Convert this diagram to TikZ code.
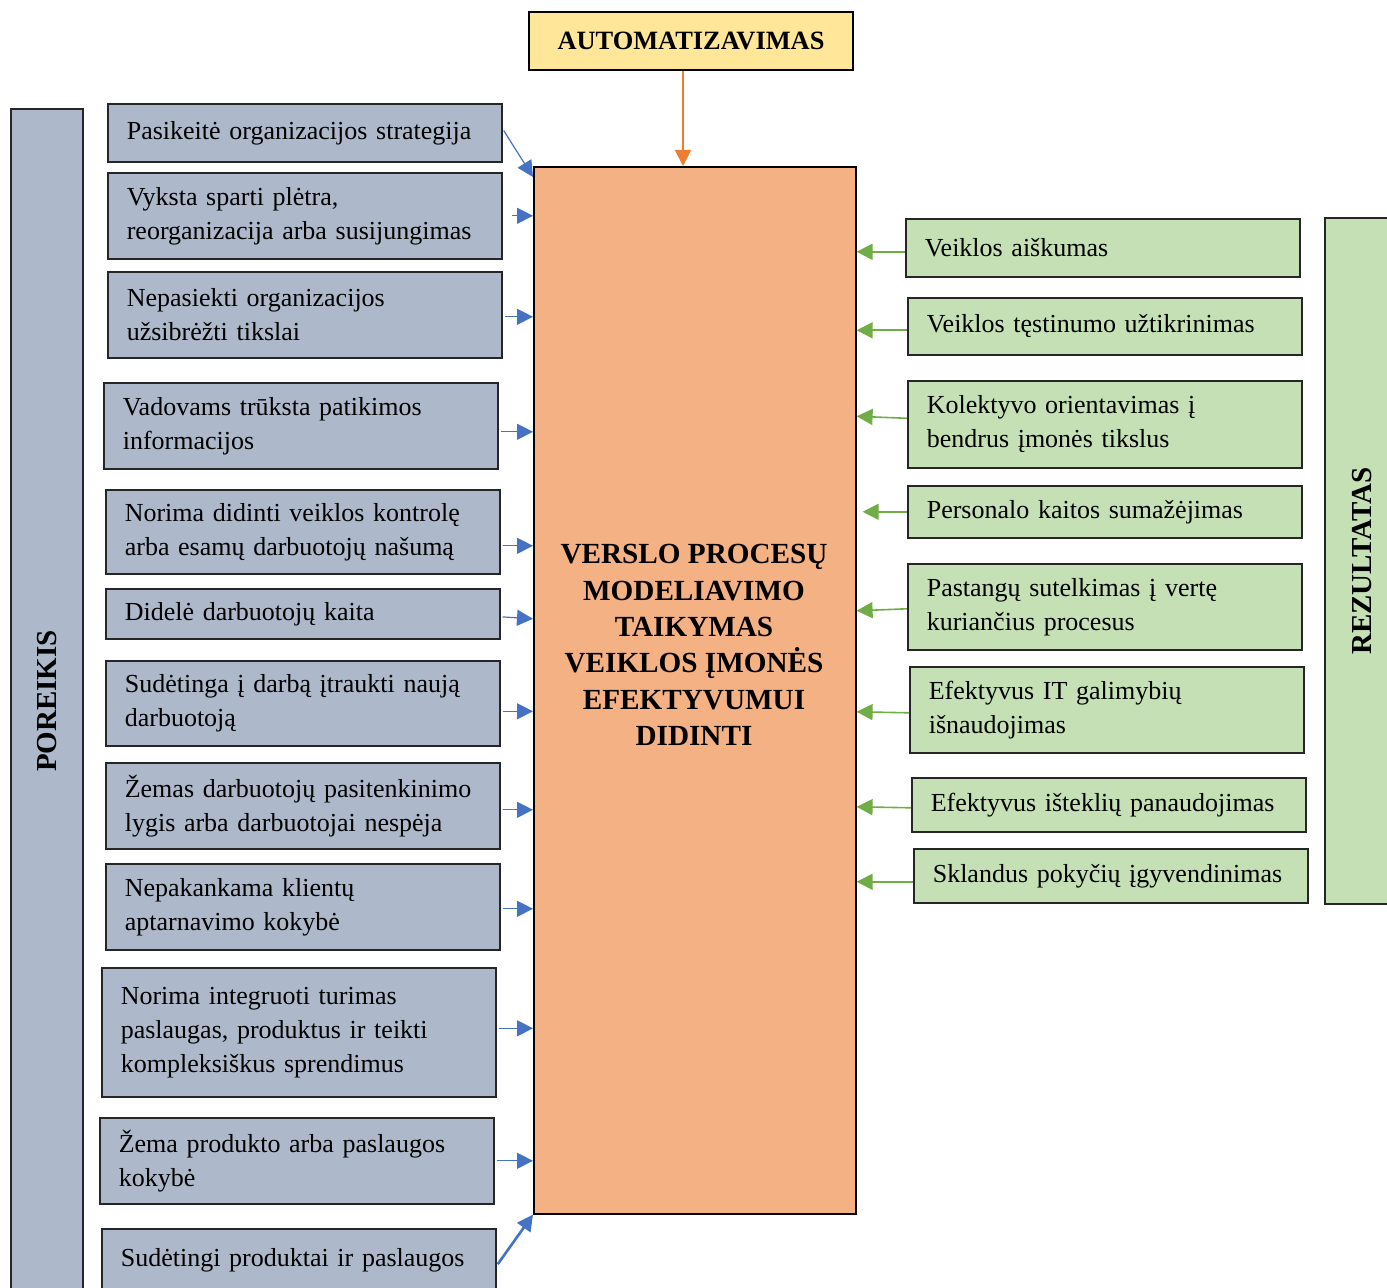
\documentclass[tikz,border=0pt]{standalone}
\usepackage{fontspec}
\setmainfont{Liberation Serif}
\usetikzlibrary{arrows.meta}

\definecolor{needfill}{HTML}{ADB9CA}
\definecolor{resfill}{HTML}{C5E0B4}
\definecolor{corefill}{HTML}{F4B183}
\definecolor{autofill}{HTML}{FFE699}
\definecolor{needline}{HTML}{4472C4}
\definecolor{resline}{HTML}{70AD47}
\definecolor{autoline}{HTML}{ED7D31}

\begin{document}
\begin{tikzpicture}[x=0.5pt, y=-0.5pt, font=\fontsize{13pt}{17pt}\selectfont]
    \tikzset{%
      box/.style={draw=black!85, line width=0.8pt, anchor=north west, text width=178pt,
        inner xsep=9.5pt, inner ysep=0pt, align=left, minimum height=#1,
        execute at begin node={\hyphenpenalty=10000\exhyphenpenalty=10000}},
      need/.style={box=#1, fill=needfill},
      res/.style={box=#1, fill=resfill},
      bar/.style={draw=black!85, line width=0.8pt, rotate=90, inner sep=0pt,
        font=\fontsize{14.5pt}{17pt}\selectfont\bfseries},
      needarr/.style={draw=needline, line width=0.6pt, shorten <=1pt,
        -{Triangle[length=8pt, width=8pt]}},
      resarr/.style={draw=resline, line width=0.8pt,
        -{Triangle[length=8pt, width=8pt]}}
      }
    \useasboundingbox (0,0) rectangle (1387,1288);

    % side bars
    \node [bar, fill=needfill, minimum width=592pt, minimum height=36pt] (poreikis) at (47,701) {POREIKIS};
    \node [bar, fill=resfill, minimum width=343pt, minimum height=37pt] (rezultatas) at (1362,561) {REZULTATAS};

    % centre
    \node [draw=black, line width=0.8pt, fill=autofill, minimum width=162pt, minimum height=29pt,
      font=\fontsize{13.2pt}{17pt}\selectfont\bfseries] (auto) at (691,41) {AUTOMATIZAVIMAS};
    \node [draw=black, line width=0.8pt, fill=corefill, anchor=north west,
      minimum width=161pt, minimum height=523.5pt] (main) at (533,166) {};
    \node [align=center, font=\fontsize{14.6pt}{18.2pt}\selectfont\bfseries] (maintitle) at (694,645)
      {VERSLO PROCESŲ\\MODELIAVIMO\\TAIKYMAS\\VEIKLOS ĮMONĖS\\EFEKTYVUMUI\\DIDINTI};
    \draw [draw=autoline, line width=1pt, -{Triangle[length=8pt, width=8pt]}]
      ([xshift=-4pt]auto.south) -- ([xshift=-4pt]auto.south |- main.north);

    % needs
    \node [need=29pt] (n1) at (107,103) {Pasikeitė organizacijos strategija};
    \node [need=43pt] (n2) at (107,172) {Vyksta sparti plėtra,\\reorganizacija arba susijungimas};
    \node [need=43pt] (n3) at (107,271) {Nepasiekti organizacijos\\užsibrėžti tikslai};
    \node [need=43pt] (n4) at (103,382) {Vadovams trūksta patikimos\\informacijos};
    \node [need=42pt] (n5) at (105,489) {Norima didinti veiklos kontrolę\\arba esamų darbuotojų našumą};
    \node [need=25pt] (n6) at (105,588) {Didelė darbuotojų kaita};
    \node [need=42.5pt] (n7) at (105,660) {Sudėtinga į darbą įtraukti naują\\darbuotoją};
    \node [need=43pt] (n8) at (105,762) {Žemas darbuotojų pasitenkinimo\\lygis arba darbuotojai nespėja};
    \node [need=43pt] (n9) at (105,863) {Nepakankama klientų\\aptarnavimo kokybė};
    \node [need=64.5pt] (n10) at (101,967) {Norima integruoti turimas\\paslaugas, produktus ir teikti\\kompleksiškus sprendimus};
    \node [need=43pt] (n11) at (99,1117) {Žema produkto arba paslaugos\\kokybė};
    \node [need=31pt] (n12) at (101,1228) {Sudėtingi produktai ir paslaugos};

    \draw [needarr] ([yshift=2pt]n1.east) -- ([yshift=-5.5pt]main.north west);
    \draw [needarr, shorten <=4.5pt] (n2.east) -- (n2.east -| main.west);
    \draw [needarr] ([yshift=-1pt]n3.east) -- ([yshift=-1pt]n3.east -| main.west);
    \draw [needarr] ([yshift=-3pt]n4.east) -- ([yshift=-3pt]n4.east -| main.west);
    \draw [needarr] ([yshift=-7pt]n5.east) -- ([yshift=-7pt]n5.east -| main.west);
    \draw [needarr] ([yshift=-1.5pt]n6.east) -- ([yshift=-2.5pt]n6.east -| main.west);
    \draw [needarr] ([yshift=-4pt]n7.east) -- ([yshift=-4pt]n7.east -| main.west);
    \draw [needarr] ([yshift=-2pt]n8.east) -- ([yshift=-2pt]n8.east -| main.west);
    \draw [needarr] ([yshift=-1pt]n9.east) -- ([yshift=-1pt]n9.east -| main.west);
    \draw [needarr] ([yshift=2pt]n10.east) -- ([yshift=2pt]n10.east -| main.west);
    \draw [needarr] (n11.east) -- (n11.east -| main.west);
    \draw [needarr, line width=1.3pt] ([yshift=-3pt]n12.east) -- (main.south west);

    % results
    \node [res=29pt] (r1) at (905,218) {Veiklos aiškumas};
    \node [res=28.5pt] (r2) at (907,297) {Veiklos tęstinumo užtikrinimas};
    \node [res=43.5pt] (r3) at (907,380) {Kolektyvo orientavimas į\\bendrus įmonės tikslus};
    \node [res=26pt] (r4) at (907,485) {Personalo kaitos sumažėjimas};
    \node [res=43pt] (r5) at (907,563) {Pastangų sutelkimas į vertę\\kuriančius procesus};
    \node [res=43pt] (r6) at (909,666) {Efektyvus IT galimybių\\išnaudojimas};
    \node [res=27pt] (r7) at (911,777) {Efektyvus išteklių panaudojimas};
    \node [res=27pt] (r8) at (913,848) {Sklandus pokyčių įgyvendinimas};

    \draw [resarr] ([yshift=-2pt]r1.west) -- ([yshift=-2pt]r1.west -| main.east);
    \draw [resarr] ([yshift=-2pt]r2.west) -- ([yshift=-2pt]r2.west -| main.east);
    \draw [resarr] ([yshift=3pt]r3.west) -- ([yshift=4pt]r3.west -| main.east);
    \draw [resarr, shorten >=3pt] (r4.west) -- (r4.west -| main.east);
    \draw [resarr] ([yshift=-1pt]r5.west) -- ([yshift=-2pt]r5.west -| main.east);
    \draw [resarr] ([yshift=-1.5pt]r6.west) -- ([yshift=-1pt]r6.west -| main.east);
    \draw [resarr] ([yshift=-1.5pt]r7.west) -- ([yshift=-1pt]r7.west -| main.east);
    \draw [resarr] ([yshift=-3pt]r8.west) -- ([yshift=-3pt]r8.west -| main.east);
\end{tikzpicture}
\end{document}
